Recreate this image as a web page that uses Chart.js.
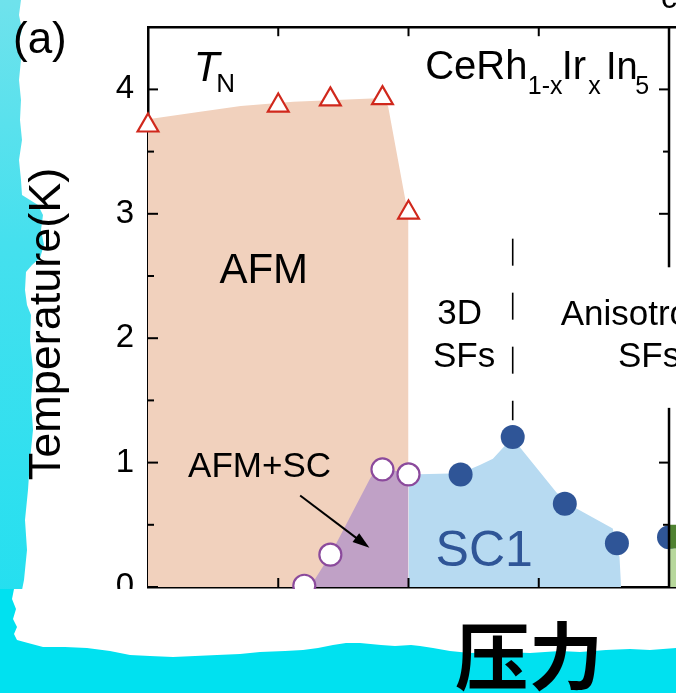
<!DOCTYPE html>
<html>
<head>
<meta charset="utf-8">
<script src="https://cdn.jsdelivr.net/npm/chart.js@4.4.0/dist/chart.umd.js"></script>
<style>
  html, body { margin: 0; padding: 0; }
  body { width: 676px; height: 693px; position: relative; overflow: hidden; background: #fff; }
  #strip {
    position: absolute; left: 0; top: 0; width: 50px; height: 693px;
    background: linear-gradient(180deg, #6fe2ec 0%, #45e0ee 35%, #1cdff0 100%);
    clip-path: polygon(0 0, 21px 0, 19px 15px, 22px 30px, 18px 45px, 21px 60px, 19px 80px, 21px 100px, 20px 120px,
      22px 140px, 19px 160px, 21px 180px, 22px 195px, 30px 200px, 38px 205px, 43px 215px, 41px 230px, 44px 245px,
      40px 258px, 32px 265px, 26px 272px, 25px 290px, 27px 305px, 31px 315px, 30px 340px, 33px 370px, 31px 400px,
      33px 430px, 30px 460px, 28px 490px, 25px 520px, 27px 550px, 24px 580px, 20px 600px, 16px 620px, 14px 650px,
      12px 693px, 0 693px);
  }
  #chart { position: absolute; left: 0; top: 0; }
  #band { position: absolute; left: 0; top: 589px; width: 676px; height: 104px; background: #00e1f0; }
  #paper {
    position: absolute; left: 0; top: 0; width: 676px; height: 104px; background: #fff;
    clip-path: polygon(14px 0, 676px 0, 676px 59px, 650px 61px, 630px 60px, 606px 61px, 580px 63px, 560px 62px,
      530px 64px, 500px 63px, 470px 64px, 450px 62px, 433px 59px, 420px 57px, 411px 56px, 395px 57px, 381px 56px,
      360px 54px, 346px 54px, 333px 56px, 318px 59px, 303px 61px, 285px 62px, 260px 63px, 240px 65px, 217px 66px,
      195px 67px, 173px 68px, 150px 67px, 130px 66px, 110px 62px, 87px 59px, 65px 58px, 43px 58px, 28px 54px,
      17px 51px, 14px 45px, 17px 38px, 13px 30px, 16px 20px, 12px 10px);
  }
  #xlabel {
    position: absolute; left: 429px; top: 615px; width: 200px; text-align: center;
    font: 700 74px/74px "Noto Sans CJK SC"; color: #000;
  }
</style>
</head>
<body>
<div id="strip"></div>
<canvas id="chart" width="676" height="693"></canvas>
<div id="band"><div id="paper"></div></div>
<div id="xlabel">压力</div>

<script>
// T_N (red triangles)
const tnX = [0, 0.25, 0.35, 0.45, 0.5];
const tnY = [3.71, 3.87, 3.92, 3.93, 3.01];
// AFM+SC onset (open circles)
const openX = [0.3, 0.35, 0.45, 0.5];
const openY = [0.01, 0.26, 0.945, 0.905];
// Tc SC1 (solid circles)
const scX = [0.6, 0.7, 0.8, 0.9, 1.0];
const scY = [0.905, 1.205, 0.67, 0.352, 0.40];

// shaded phase regions (upper boundary, filled down to 0)
const afmX = [0, 0.1, 0.178, 0.279, 0.452, 0.461, 0.494, 0.5, 0.5];
const afmY = [3.76, 3.82, 3.866, 3.90, 3.93, 3.86, 3.11, 2.99, 0];
const mixX = [0.311, 0.35, 0.426, 0.44, 0.475, 0.5, 0.5];
const mixY = [0, 0.26, 0.87, 0.955, 0.935, 0.905, 0];
const sc1X = [0.5, 0.5, 0.6, 0.637, 0.662, 0.699, 0.784, 0.819, 0.892, 0.905, 0.908];
const sc1Y = [0, 0.905, 0.915, 0.98, 1.03, 1.2, 0.76, 0.64, 0.47, 0.24, 0];
// next region peeking in at the right edge
const greenX = [1.0, 1.03];
const greenTop = [0.5, 0.5];
const greenMid = 0.31;

// dashed crossover line
const dashX = [0.7, 0.7];
const dashY = [2.8, 1.34];

// axes
const xMax = 1.0134;
const yMax = 4.5;
const xTickVals = [0.25, 0.5, 0.75];
const yTickVals = [0, 1, 2, 3, 4];
const yMinorVals = [0.5, 1.5, 2.5, 3.5];
const rightFrame = [[0, 1.44], [2.57, 4.5]];

const FONT = '"Liberation Sans", Arial, sans-serif';
const pts = (xs, ys) => xs.map((v, i) => ({x: v, y: ys[i]}));

function region(data, color, order, fill) {
    return {
        data: data, backgroundColor: color, borderColor: 'rgba(0,0,0,0)', borderWidth: 0,
        pointRadius: 0, fill: fill || 'origin', tension: 0, order: order, showLine: true
    };
}

// keep the plot box exactly where the layout padding puts it
function noPad(s) {
    s.paddingLeft = 0; s.paddingRight = 0; s.paddingTop = 0; s.paddingBottom = 0;
}

const frameAndLabels = {
    id: 'frameAndLabels',
    afterDatasetsDraw(chart) {
        const {ctx, chartArea: a, scales: {x, y}} = chart;
        const X = v => x.getPixelForValue(v);
        const Y = v => y.getPixelForValue(v);
        ctx.save();
        ctx.strokeStyle = '#000';
        ctx.fillStyle = '#000';

        // right frame (x = 1), broken behind the label
        const xr = X(1);
        ctx.lineWidth = 2.5;
        rightFrame.forEach(([y0, y1]) => {
            ctx.beginPath(); ctx.moveTo(xr, Y(y0)); ctx.lineTo(xr, Y(y1)); ctx.stroke();
        });

        // inward ticks
        ctx.lineWidth = 2;
        const inRight = v => rightFrame.some(([y0, y1]) => v >= y0 && v <= y1);
        const yTick = (v, len) => {
            ctx.beginPath(); ctx.moveTo(a.left, Y(v)); ctx.lineTo(a.left + len, Y(v)); ctx.stroke();
            if (inRight(v)) {
                ctx.beginPath(); ctx.moveTo(xr, Y(v)); ctx.lineTo(xr - len, Y(v)); ctx.stroke();
            }
        };
        yTickVals.forEach(v => yTick(v, 10));
        yMinorVals.forEach(v => yTick(v, 6));
        xTickVals.forEach(v => {
            ctx.beginPath(); ctx.moveTo(X(v), a.bottom); ctx.lineTo(X(v), a.bottom - 9); ctx.stroke();
            ctx.beginPath(); ctx.moveTo(X(v), a.top); ctx.lineTo(X(v), a.top + 9); ctx.stroke();
        });

        // arrow to AFM+SC region
        const x0 = X(0.292), y0 = Y(0.736), x1 = X(0.425), y1 = Y(0.315);
        const ang = Math.atan2(y1 - y0, x1 - x0);
        ctx.lineWidth = 2;
        ctx.beginPath(); ctx.moveTo(x0, y0);
        ctx.lineTo(x1 - 12 * Math.cos(ang), y1 - 12 * Math.sin(ang)); ctx.stroke();
        ctx.beginPath();
        ctx.moveTo(x1, y1);
        ctx.lineTo(x1 - 17 * Math.cos(ang) + 5.5 * Math.sin(ang), y1 - 17 * Math.sin(ang) - 5.5 * Math.cos(ang));
        ctx.lineTo(x1 - 17 * Math.cos(ang) - 5.5 * Math.sin(ang), y1 - 17 * Math.sin(ang) + 5.5 * Math.cos(ang));
        ctx.closePath(); ctx.fill();

        // text labels
        const txt = (s, xv, yv, font, color) => {
            ctx.font = font; ctx.fillStyle = color || '#000';
            ctx.textAlign = 'left'; ctx.textBaseline = 'alphabetic';
            ctx.fillText(s, X(xv), Y(yv));
        };
        txt('T', 0.088, 4.07, 'italic 42px ' + FONT);
        txt('N', 0.131, 3.98, '26px ' + FONT);
        txt('CeRh', 0.532, 4.08, '40px ' + FONT);
        txt('1-x', 0.729, 3.96, '25px ' + FONT);
        txt('Ir', 0.794, 4.08, '40px ' + FONT);
        txt('x', 0.845, 3.96, '25px ' + FONT);
        txt('In', 0.879, 4.08, '38px ' + FONT);
        txt('5', 0.935, 3.96, '25px ' + FONT);
        txt('AFM', 0.137, 2.445, '42px ' + FONT);
        txt('3D', 0.555, 2.115, '35px ' + FONT);
        txt('SFs', 0.547, 1.765, '35px ' + FONT);
        txt('Anisotropic', 0.792, 2.105, '35px ' + FONT);
        txt('SFs', 0.902, 1.765, '35px ' + FONT);
        txt('AFM+SC', 0.077, 0.882, '35px ' + FONT);
        txt('SC1', 0.552, 0.168, '50px ' + FONT, '#2f5597');
        ctx.restore();
    },
    afterDraw(chart) {
        const ctx = chart.ctx;
        ctx.save();
        ctx.fillStyle = '#000';
        ctx.textBaseline = 'alphabetic';
        ctx.font = '44px ' + FONT;
        ctx.textAlign = 'left';
        ctx.fillText('(a)', 13, 53);
        ctx.font = '32px ' + FONT;
        ctx.fillText('c', 661, 8);
        ctx.translate(60, 324);
        ctx.rotate(-Math.PI / 2);
        ctx.textAlign = 'center';
        ctx.font = '45px ' + FONT;
        ctx.fillText('Temperature(K)', 0, 0);
        ctx.restore();
    }
};

new Chart(document.getElementById('chart'), {
    type: 'line',
    data: {
        datasets: [
            Object.assign(region(pts(greenX, greenTop), '#4f8231', -2, {value: greenMid}), {clip: false}),
            region(pts(greenX, greenX.map(() => greenMid)), '#b7d89c', -2),
            {
                data: pts(tnX, tnY), showLine: false, pointStyle: 'triangle', pointRadius: 12,
                pointBackgroundColor: '#fff', pointBorderColor: '#d0281c', pointBorderWidth: 2.2,
                order: 0, clip: false
            },
            {
                data: pts(openX, openY), showLine: false, pointStyle: 'circle', pointRadius: 11,
                pointBackgroundColor: '#fff', pointBorderColor: '#8b4a9c', pointBorderWidth: 2.2,
                order: 0, clip: false
            },
            {
                data: pts(scX, scY), showLine: false, pointStyle: 'circle', pointRadius: 12,
                pointBackgroundColor: '#2f5597', pointBorderColor: '#2f5597', pointBorderWidth: 0,
                order: 0, clip: false
            },
            {
                data: pts(dashX, dashY), showLine: true, borderColor: '#000', borderWidth: 1.6,
                borderDash: [27, 27], pointRadius: 0, fill: false, order: 2
            },
            region(pts(sc1X, sc1Y), '#b7daf1', 3),
            region(pts(mixX, mixY), '#c0a1c6', 4),
            region(pts(afmX, afmY), '#f1d1bd', 5)
        ]
    },
    options: {
        responsive: false,
        animation: false,
        events: [],
        layout: {autoPadding: false, padding: {top: 27.2, bottom: 106, left: 0, right: 0}},
        plugins: {legend: {display: false}, tooltip: {enabled: false}},
        scales: {
            x: {
                type: 'linear', position: 'bottom', min: 0, max: xMax,
                ticks: {display: false},
                grid: {drawOnChartArea: false, drawTicks: false},
                border: {color: '#000', width: 2.5},
                afterFit: s => { s.height = 0; noPad(s); }
            },
            x2: {
                type: 'linear', position: 'top', min: 0, max: xMax,
                ticks: {display: false},
                grid: {drawOnChartArea: false, drawTicks: false},
                border: {color: '#000', width: 2.5},
                afterFit: s => { s.height = 0; noPad(s); }
            },
            y: {
                type: 'linear', min: 0, max: yMax,
                afterBuildTicks: s => { s.ticks = yTickVals.map(v => ({value: v})); },
                ticks: {color: '#000', padding: 14, font: {family: FONT, size: 33}},
                grid: {drawOnChartArea: false, drawTicks: false},
                border: {color: '#000', width: 2.5},
                afterFit: s => { s.width = 148; noPad(s); }
            }
        }
    },
    plugins: [frameAndLabels]
});
</script>
</body>
</html>
